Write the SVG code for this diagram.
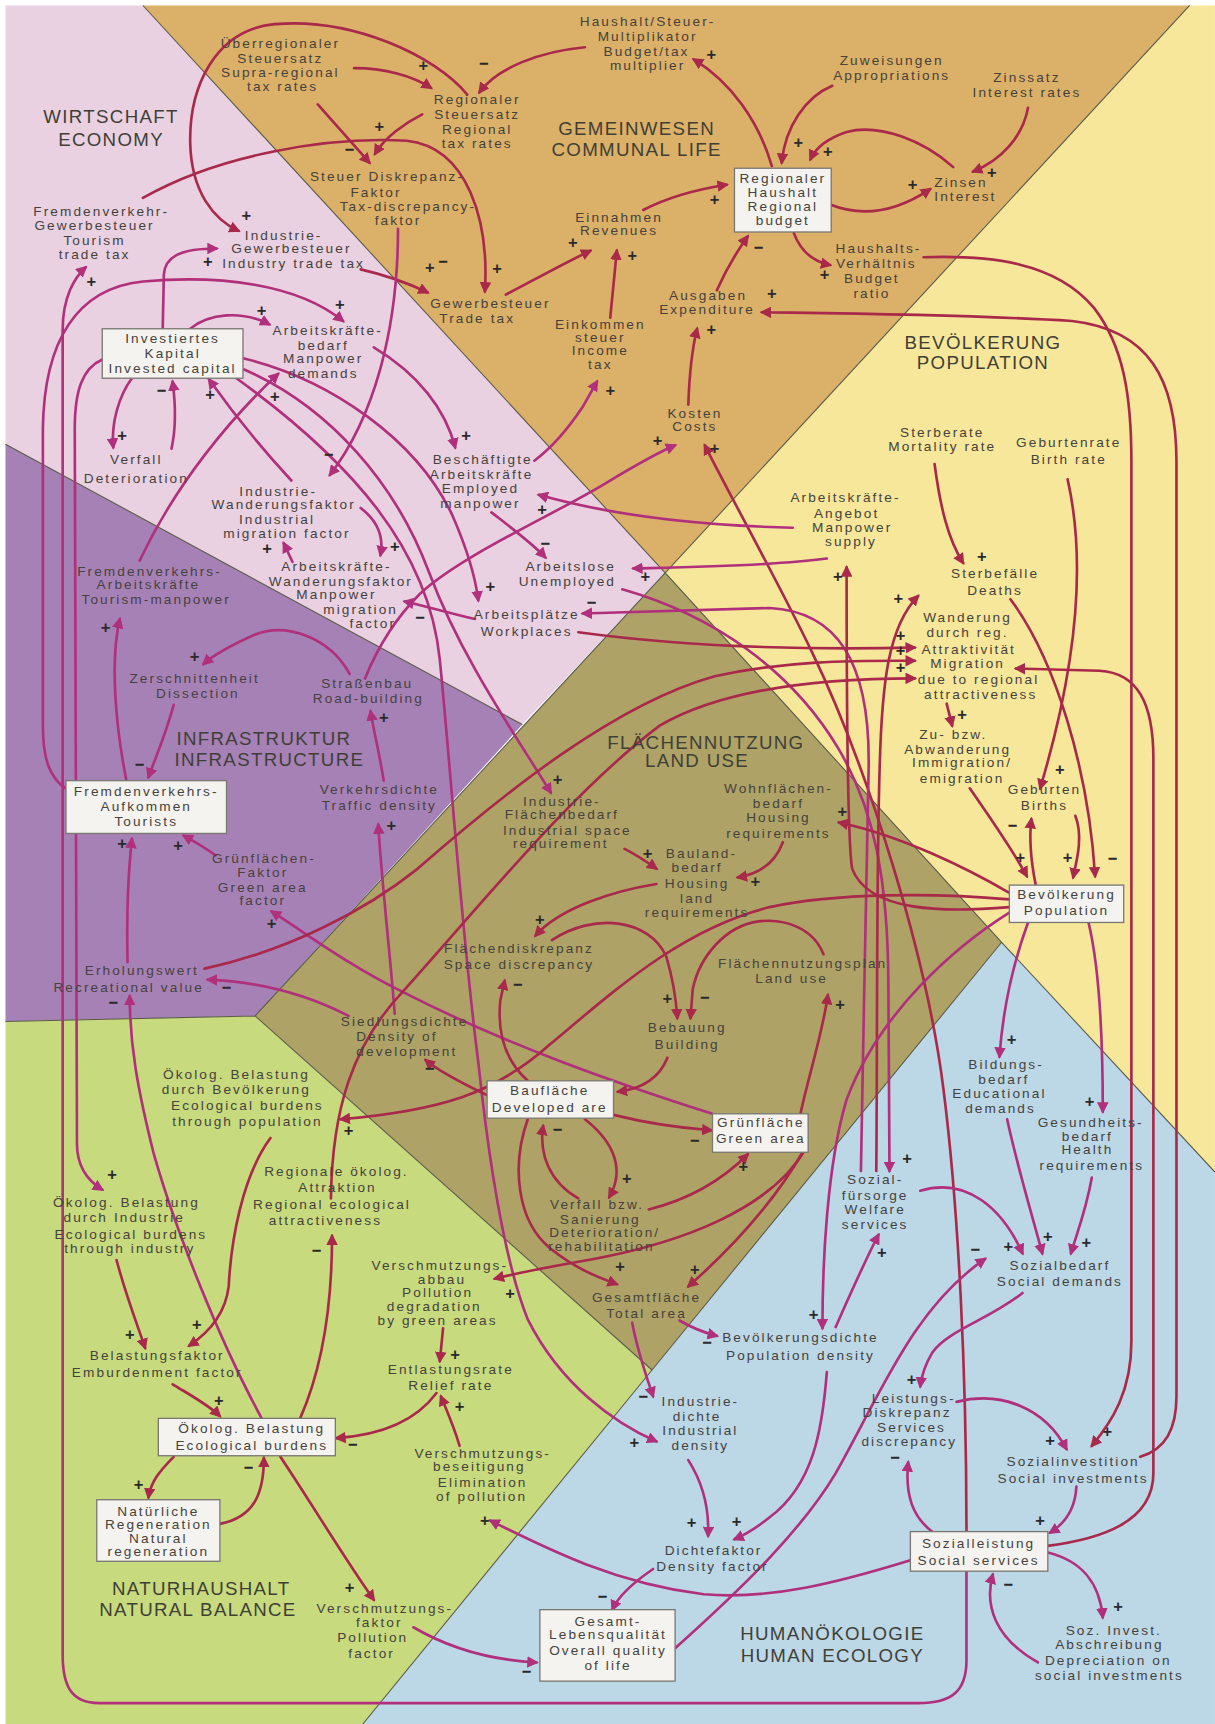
<svg xmlns="http://www.w3.org/2000/svg" width="1215" height="1724" viewBox="0 0 1215 1724">
<defs>
<style>
.c{fill:none;stroke-width:2.4;stroke-linecap:round}
.r{stroke:#a8294a;marker-end:url(#ar)}
.m{stroke:#b0307c;marker-end:url(#am)}
.t{font-family:"Liberation Sans",Arial,sans-serif;font-size:12.4px;letter-spacing:1.9px;fill:#46423c;text-anchor:middle}
.h{font-size:17px;letter-spacing:1.2px;fill:#403f36}
.s{font-family:"Liberation Sans",Arial,sans-serif;font-size:15px;fill:#2a2a2a;text-anchor:middle;font-weight:bold}
.bx{fill:#f5f3ef;stroke:#7a7872;stroke-width:1.2}
</style>
<marker id="ar" viewBox="0 0 10 10" refX="8" refY="5" markerWidth="4.4" markerHeight="4.4" orient="auto-start-reverse"><path d="M0,0 L10,5 L0,10 z" fill="#a8294a"/></marker>
<marker id="am" viewBox="0 0 10 10" refX="8" refY="5" markerWidth="4.4" markerHeight="4.4" orient="auto-start-reverse"><path d="M0,0 L10,5 L0,10 z" fill="#b0307c"/></marker>
</defs>
<rect width="1215" height="1724" fill="#ffffff"/>
<g transform="scale(1.0995)">
<g id="regions">
<polygon fill="#e9d1e1" points="5,5 130,5 605,521 475,659 5,404"/>
<polygon fill="#dbb068" points="130,5 1082,5 605,521"/>
<polygon fill="#f7e79a" points="1082,5 1105,5 1105,1066 911,857 605,521"/>
<polygon fill="#aea267" points="605,521 911,857 593,1246 232,924"/>
<polygon fill="#a681b6" points="5,404 475,659 232,924 5,929"/>
<polygon fill="#c8da7e" points="5,929 232,924 593,1246 330,1568 5,1568"/>
<polygon fill="#bcd7e6" points="911,857 1105,1066 1105,1568 330,1568 593,1246"/>
<path d="M130,5 L605,521 L911,857 L1105,1066 M1082,5 L605,521 L232,924 L5,929 M5,404 L475,659 M911,857 L593,1246 L330,1568 M232,924 L593,1246" fill="none" stroke="#5b5b48" stroke-width="1"/>
</g>

<g id="connectors">
<path class="c r" d="M532,43 C490,47 452,62 436,84"/>
<path class="c r" d="M322,62 C350,62 375,69 392,80"/>
<path class="c r" d="M425,86 C395,50 320,16 250,22 C195,27 172,80 173,130 C174,175 195,200 217,210"/>
<path class="c r" d="M384,104 C368,112 350,125 341,140"/>
<path class="c r" d="M289,95 L336,148"/>
<path class="c r" d="M130,180 C200,140 300,124 370,128 C425,134 445,200 441,265"/>
<path class="c r" d="M328,245 C350,250 370,257 389,266"/>
<path class="c r" d="M460,268 C485,255 512,240 537,228"/>
<path class="c r" d="M555,289 L561,228"/>
<path class="c r" d="M585,191 C610,178 635,172 661,168"/>
<path class="c r" d="M652,264 C660,246 670,229 680,215"/>
<path class="c r" d="M626,368 C627,340 630,315 634,299"/>
<path class="c r" d="M702,151 C690,110 665,75 631,54"/>
<path class="c r" d="M757,78 C733,88 714,115 711,148"/>
<path class="c r" d="M867,152 C840,128 800,112 770,120 C752,126 742,134 737,145"/>
<path class="c r" d="M755,186 C790,200 822,188 846,172"/>
<path class="c r" d="M935,98 C930,125 910,146 885,156"/>
<path class="c r" d="M722,212 C728,228 740,238 755,241"/>
<path class="c r" d="M840,234 C900,232 960,238 995,280 C1022,315 1029,360 1029,420 L1029,1220 C1029,1265 1012,1292 993,1315"/>
<path class="c r" d="M1037,1325 C1060,1318 1070,1300 1070,1270 L1070,420 C1070,345 1045,300 975,292 C880,286 760,285 693,284"/>
<path class="c r" d="M953,1406 C1000,1400 1049,1385 1049,1340 L1049,690 C1049,640 1035,612 1000,610 L924,608"/>
<path class="c r" d="M879,1393 C879,1250 872,1100 858,990 C843,870 790,700 738,592 C708,530 670,462 641,405"/>
<path class="c m" d="M879,1429 L879,1510 C879,1538 866,1549 835,1549 L90,1549 C66,1549 57,1535 57,1505 L57,300 C57,270 68,252 78,243"/>
<path class="c m" d="M93,327 C75,335 68,355 68,390 L70,1040 C70,1062 80,1074 93,1082"/>
<path class="c m" d="M61,718 C45,708 39,690 39,660 L39,390 C40,310 70,262 130,256 C200,250 270,258 312,292"/>
<path class="c m" d="M148,299 L149,250 C150,233 165,226 197,226"/>
<path class="c m" d="M173,299 C190,285 220,282 245,295"/>
<path class="c m" d="M222,326 C300,345 380,400 412,470 C425,500 432,522 435,546"/>
<path class="c m" d="M222,336 C300,370 360,440 390,520 C420,600 470,670 501,721"/>
<path class="c m" d="M215,344 C320,420 390,500 400,600 C410,700 420,850 435,966 C445,1060 460,1150 480,1200 C510,1260 560,1295 597,1311"/>
<path class="c m" d="M340,316 C380,340 405,372 414,407"/>
<path class="c m" d="M447,466 C465,480 485,495 496,507"/>
<path class="c m" d="M721,480 C640,478 560,470 490,450"/>
<path class="c m" d="M752,508 C700,515 620,516 576,517"/>
<path class="c m" d="M783,1065 C785,950 788,800 790,700 C792,600 760,556 700,553 L530,558"/>
<path class="c m" d="M566,536 C650,560 720,610 762,680 C795,735 808,800 808,900 L809,1065"/>
<path class="c m" d="M362,208 C362,300 340,380 300,432"/>
<path class="c m" d="M328,462 C345,475 349,490 346,505"/>
<path class="c m" d="M266,511 C263,505 261,500 258,494"/>
<path class="c m" d="M432,563 C410,558 390,552 368,547"/>
<path class="c m" d="M332,617 C345,585 362,560 382,540 C420,505 500,470 550,440 C575,425 595,413 614,405"/>
<path class="c m" d="M486,419 C505,405 520,385 530,370 C536,360 540,352 543,347"/>
<path class="c m" d="M156,408 C160,390 160,370 157,347"/>
<path class="c m" d="M120,344 C108,360 101,385 103,407"/>
<path class="c m" d="M265,437 C240,410 215,380 190,345"/>
<path class="c m" d="M127,510 C160,440 210,380 253,340"/>
<path class="c m" d="M115,710 C105,660 100,600 109,563"/>
<path class="c m" d="M158,641 C150,670 141,690 135,707"/>
<path class="c m" d="M318,613 C300,580 260,565 230,578 C210,587 195,595 185,604"/>
<path class="c m" d="M349,710 C345,685 340,665 337,647"/>
<path class="c m" d="M359,922 C355,870 347,800 344,750"/>
<path class="c m" d="M116,875 C115,830 117,790 120,763"/>
<path class="c m" d="M196,778 C188,772 178,766 167,760"/>
<path class="c m" d="M238,1290 C200,1220 160,1120 140,1050 C125,990 118,950 118,906"/>
<path class="c m" d="M317,924 C280,905 240,893 189,891"/>
<path class="c m" d="M648,1013 C560,985 460,950 368,903 C320,880 280,850 247,829"/>
<path class="c r" d="M186,881 C260,865 330,830 380,790 C460,720 560,640 650,615 C720,600 780,601 832,601"/>
<path class="c r" d="M301,1090 C302,1010 320,950 368,900 C440,820 520,720 600,660 C660,625 750,617 832,617"/>
<path class="c r" d="M526,575 C600,585 700,592 832,589"/>
<path class="c r" d="M273,1290 C295,1240 302,1180 302,1124"/>
<path class="c r" d="M255,1325 C285,1370 315,1420 340,1455"/>
<path class="c r" d="M157,1259 C175,1270 190,1278 200,1288"/>
<path class="c r" d="M106,1146 C115,1180 125,1205 132,1226"/>
<path class="c r" d="M246,1035 C220,1070 210,1130 208,1170 C205,1195 190,1212 172,1224"/>
<path class="c r" d="M158,1325 C145,1338 137,1348 135,1362"/>
<path class="c r" d="M200,1386 C230,1380 240,1360 240,1326"/>
<path class="c r" d="M397,1267 C380,1290 350,1305 306,1308"/>
<path class="c r" d="M403,1208 L400,1238"/>
<path class="c r" d="M418,1315 C412,1295 405,1280 401,1270"/>
<path class="c r" d="M732,1046 C700,1100 620,1130 540,1145 C500,1152 470,1158 450,1163"/>
<path class="c r" d="M918,818 C850,812 760,812 700,825 C620,845 560,900 500,950 C450,995 400,1010 310,1018"/>
<path class="c m" d="M376,1480 C410,1500 450,1510 488,1512"/>
<path class="c m" d="M828,1419 C760,1440 700,1455 640,1450 C560,1440 500,1410 446,1383"/>
<path class="c r" d="M749,868 C740,845 715,835 690,838 C660,842 636,870 630,900 L628,926"/>
<path class="c r" d="M502,855 C540,830 590,835 606,870 C612,890 615,910 616,926"/>
<path class="c r" d="M597,804 C560,810 510,825 487,851"/>
<path class="c r" d="M480,983 C460,965 452,940 455,910 L459,892"/>
<path class="c r" d="M607,962 C600,980 585,990 562,993"/>
<path class="c r" d="M558,1014 C590,1022 620,1026 647,1028"/>
<path class="c r" d="M443,996 C420,985 400,975 387,964"/>
<path class="c r" d="M532,1018 C560,1040 568,1065 554,1089"/>
<path class="c r" d="M526,1090 C500,1075 490,1050 494,1024"/>
<path class="c r" d="M590,1100 C630,1090 660,1070 680,1050"/>
<path class="c r" d="M480,1018 C465,1060 470,1110 500,1135 C525,1155 545,1162 561,1168"/>
<path class="c r" d="M730,1048 C700,1100 660,1140 626,1170"/>
<path class="c r" d="M728,1013 C735,980 748,940 753,905"/>
<path class="c r" d="M568,772 C580,778 590,785 597,790"/>
<path class="c r" d="M712,766 C705,785 690,795 671,798"/>
<path class="c r" d="M918,812 C880,790 820,760 763,748"/>
<path class="c r" d="M850,422 C855,460 862,490 876,512"/>
<path class="c r" d="M971,436 C990,520 975,620 946,717"/>
<path class="c r" d="M919,545 C960,600 990,700 996,797"/>
<path class="c r" d="M861,640 L866,660"/>
<path class="c r" d="M882,717 C905,750 922,775 934,797"/>
<path class="c r" d="M978,742 C985,760 980,780 976,798"/>
<path class="c r" d="M942,805 C937,780 936,762 938,745"/>
<path class="c r" d="M918,825 C860,830 790,830 775,790 C770,760 770,600 770,516"/>
<path class="c r" d="M797,1065 C798,950 797,800 800,700 C802,620 808,570 835,542"/>
<path class="c m" d="M935,839 C920,880 912,920 909,961"/>
<path class="c m" d="M990,839 C1000,880 1003,950 1003,1011"/>
<path class="c m" d="M918,830 C870,860 800,920 770,1000 C752,1060 748,1150 748,1208"/>
<path class="c m" d="M618,1201 C630,1208 640,1212 652,1215"/>
<path class="c m" d="M575,1203 C580,1230 588,1252 594,1270"/>
<path class="c m" d="M626,1328 C640,1350 645,1375 644,1397"/>
<path class="c m" d="M752,1248 C748,1300 740,1350 700,1380 C685,1392 675,1397 668,1400"/>
<path class="c m" d="M594,1427 C575,1440 562,1452 557,1464"/>
<path class="c m" d="M614,1499 C680,1440 730,1390 760,1340 C800,1270 830,1190 896,1145"/>
<path class="c m" d="M760,1207 C772,1180 785,1150 799,1123"/>
<path class="c m" d="M837,1083 C880,1070 912,1100 930,1140"/>
<path class="c m" d="M916,1018 C925,1060 940,1110 948,1140"/>
<path class="c m" d="M993,1071 C988,1100 980,1120 974,1140"/>
<path class="c m" d="M930,1176 C900,1200 862,1210 848,1230 C841,1242 838,1252 837,1261"/>
<path class="c m" d="M870,1275 C910,1265 950,1280 970,1318"/>
<path class="c m" d="M849,1394 C830,1380 823,1360 826,1330"/>
<path class="c m" d="M979,1352 C978,1372 968,1386 955,1394"/>
<path class="c m" d="M953,1412 C985,1420 1000,1440 1003,1471"/>
<path class="c m" d="M944,1512 C905,1490 895,1460 903,1432"/>
</g>

<g id="signs" class="s">
<text x="440" y="63">−</text><text x="385" y="65">+</text><text x="224" y="201">+</text><text x="345" y="120">+</text><text x="318" y="141">−</text>
<text x="452" y="249">+</text><text x="391" y="248">+</text><text x="403" y="243">−</text><text x="521" y="226">+</text><text x="575" y="237">+</text>
<text x="650" y="186">+</text><text x="690" y="230">−</text><text x="647" y="305">+</text><text x="647" y="55">+</text><text x="726" y="135">+</text>
<text x="753" y="143">+</text><text x="830" y="173">+</text><text x="902" y="162">+</text><text x="750" y="255">+</text><text x="1007" y="1307">+</text>
<text x="702" y="272">+</text><text x="650" y="413">+</text><text x="598" y="406">+</text><text x="83" y="261">+</text><text x="102" y="1073">+</text>
<text x="309" y="282">+</text><text x="189" y="243">+</text><text x="238" y="287">+</text><text x="446" y="538">+</text><text x="507" y="714">+</text>
<text x="577" y="1317">+</text><text x="424" y="401">+</text><text x="496" y="499">−</text><text x="493" y="468">+</text><text x="587" y="529">+</text>
<text x="538" y="553">−</text><text x="825" y="1059">+</text><text x="299" y="418">−</text><text x="359" y="502">+</text><text x="243" y="504">+</text>
<text x="382" y="567">−</text><text x="555" y="360">+</text><text x="147" y="360">−</text><text x="111" y="401">+</text><text x="191" y="364">+</text>
<text x="250" y="366">+</text><text x="96" y="576">+</text><text x="127" y="700">−</text><text x="177" y="602">+</text><text x="349" y="658">+</text>
<text x="356" y="756">+</text><text x="111" y="772">+</text><text x="162" y="774">+</text><text x="103" y="917">−</text><text x="206" y="903">−</text>
<text x="247" y="845">+</text><text x="819" y="583">+</text><text x="819" y="597">+</text><text x="819" y="612">+</text><text x="288" y="1142">−</text>
<text x="318" y="1449">+</text><text x="199" y="1279">+</text><text x="118" y="1219">+</text><text x="179" y="1210">+</text><text x="126" y="1355">+</text>
<text x="226" y="1340">−</text><text x="321" y="1319">−</text><text x="414" y="1237">+</text><text x="418" y="1284">+</text><text x="464" y="1181">+</text>
<text x="317" y="1033">+</text><text x="479" y="1525">−</text><text x="441" y="1388">+</text><text x="641" y="912">−</text><text x="607" y="913">+</text>
<text x="491" y="841">+</text><text x="471" y="900">−</text><text x="632" y="1042">−</text><text x="391" y="977">−</text><text x="570" y="1077">+</text>
<text x="507" y="1032">−</text><text x="676" y="1066">+</text><text x="564" y="1157">+</text><text x="632" y="1160">+</text><text x="764" y="919">+</text>
<text x="589" y="781">+</text><text x="687" y="807">+</text><text x="766" y="743">+</text><text x="893" y="511">+</text><text x="964" y="705">+</text>
<text x="1012" y="786">−</text><text x="875" y="655">+</text><text x="928" y="785">+</text><text x="971" y="785">+</text><text x="921" y="756">−</text>
<text x="762" y="529">+</text><text x="817" y="549">+</text><text x="920" y="950">+</text><text x="991" y="1007">+</text><text x="740" y="1201">+</text>
<text x="643" y="1226">−</text><text x="585" y="1275">−</text><text x="629" y="1390">+</text><text x="670" y="1389">+</text><text x="548" y="1457">−</text>
<text x="887" y="1141">−</text><text x="802" y="1144">+</text><text x="917" y="1139">+</text><text x="953" y="1130">+</text><text x="988" y="1135">+</text>
<text x="829" y="1260">+</text><text x="955" y="1315">+</text><text x="814" y="1331">−</text><text x="946" y="1388">+</text><text x="1017" y="1466">+</text>
<text x="917" y="1446">−</text>
</g>

<g id="titles" class="t h">
<text><tspan x="101" y="112">WIRTSCHAFT</tspan><tspan x="101" y="133">ECONOMY</tspan></text>
<text><tspan x="579" y="123">GEMEINWESEN</tspan><tspan x="579" y="142">COMMUNAL LIFE</tspan></text>
<text><tspan x="894" y="317">BEVÖLKERUNG</tspan><tspan x="894" y="336">POPULATION</tspan></text>
<text><tspan x="240" y="678">INFRASTRUKTUR</tspan><tspan x="245" y="697">INFRASTRUCTURE</tspan></text>
<text><tspan x="642" y="681">FLÄCHENNUTZUNG</tspan><tspan x="634" y="698">LAND USE</tspan></text>
<text><tspan x="183" y="1451">NATURHAUSHALT</tspan><tspan x="180" y="1470">NATURAL BALANCE</tspan></text>
<text><tspan x="757" y="1492">HUMANÖKOLOGIE</tspan><tspan x="757" y="1512">HUMAN ECOLOGY</tspan></text>
</g>

<g id="nodes" class="t">
<g id="n-ueberregional"><text><tspan x="255" y="44">Überregionaler</tspan><tspan x="255" y="57">Steuersatz</tspan><tspan x="255" y="70">Supra-regional</tspan><tspan x="257" y="83">tax rates</tspan></text></g>
<g id="n-regsteuer"><text><tspan x="434" y="95">Regionaler</tspan><tspan x="434" y="108">Steuersatz</tspan><tspan x="434" y="122">Regional</tspan><tspan x="434" y="135">tax rates</tspan></text></g>
<g id="n-multiplikator"><text><tspan x="589" y="24">Haushalt/Steuer-</tspan><tspan x="589" y="37">Multiplikator</tspan><tspan x="588" y="51">Budget/tax</tspan><tspan x="589" y="64">multiplier</tspan></text></g>
<g id="n-zuweisungen"><text><tspan x="811" y="59">Zuweisungen</tspan><tspan x="811" y="73">Appropriations</tspan></text></g>
<g id="n-zinssatz"><text><tspan x="934" y="75">Zinssatz</tspan><tspan x="934" y="88">Interest rates</tspan></text></g>
<g id="n-haushalt"><rect class="bx" x="668" y="153" width="88" height="58"/><text><tspan x="712" y="166">Regionaler</tspan><tspan x="712" y="179">Haushalt</tspan><tspan x="712" y="192">Regional</tspan><tspan x="712" y="205">budget</tspan></text></g>
<g id="n-zinsen"><text><tspan x="874" y="170">Zinsen</tspan><tspan x="878" y="183">Interest</tspan></text></g>
<g id="n-hhverh"><text><tspan x="799" y="230">Haushalts-</tspan><tspan x="797" y="244">Verhältnis</tspan><tspan x="793" y="257">Budget</tspan><tspan x="793" y="271">ratio</tspan></text></g>
<g id="n-diskrepanz"><text><tspan x="352" y="165">Steuer Diskrepanz-</tspan><tspan x="342" y="179">Faktor</tspan><tspan x="371" y="192">Tax-discrepancy-</tspan><tspan x="362" y="205">faktor</tspan></text></g>
<g id="n-einnahmen"><text><tspan x="563" y="202">Einnahmen</tspan><tspan x="563" y="214">Revenues</tspan></text></g>
<g id="n-gewerbe"><text><tspan x="446" y="280">Gewerbesteuer</tspan><tspan x="434" y="294">Trade tax</tspan></text></g>
<g id="n-einkommen"><text><tspan x="546" y="299">Einkommen</tspan><tspan x="546" y="311">steuer</tspan><tspan x="546" y="323">Income</tspan><tspan x="546" y="336">tax</tspan></text></g>
<g id="n-ausgaben"><text><tspan x="644" y="273">Ausgaben</tspan><tspan x="643" y="286">Expenditure</tspan></text></g>
<g id="n-kosten"><text><tspan x="632" y="380">Kosten</tspan><tspan x="632" y="392">Costs</tspan></text></g>
<g id="n-fvgewerbe"><text><tspan x="92" y="196">Fremdenverkehr-</tspan><tspan x="86" y="209">Gewerbesteuer</tspan><tspan x="86" y="223">Tourism</tspan><tspan x="86" y="236">trade tax</tspan></text></g>
<g id="n-indgewerbe"><text><tspan x="258" y="218">Industrie-</tspan><tspan x="265" y="230">Gewerbesteuer</tspan><tspan x="267" y="244">Industry trade tax</tspan></text></g>
<g id="n-kapital"><rect class="bx" x="93" y="299" width="128" height="45"/><text><tspan x="157" y="312">Investiertes</tspan><tspan x="157" y="326">Kapital</tspan><tspan x="157" y="339">Invested capital</tspan></text></g>
<g id="n-akbedarf"><text><tspan x="298" y="305">Arbeitskräfte-</tspan><tspan x="294" y="318">bedarf</tspan><tspan x="294" y="330">Manpower</tspan><tspan x="294" y="344">demands</tspan></text></g>
<g id="n-verfall"><text><tspan x="124" y="422">Verfall</tspan><tspan x="124" y="439">Deterioration</tspan></text></g>
<g id="n-indwand"><text><tspan x="253" y="451">Industrie-</tspan><tspan x="258" y="463">Wanderungsfaktor</tspan><tspan x="252" y="477">Industrial</tspan><tspan x="261" y="489">migration factor</tspan></text></g>
<g id="n-akwand"><text><tspan x="306" y="519">Arbeitskräfte-</tspan><tspan x="310" y="533">Wanderungsfaktor</tspan><tspan x="306" y="545">Manpower</tspan><tspan x="328" y="558">migration</tspan><tspan x="339" y="571">factor</tspan></text></g>
<g id="n-beschaeftigte"><text><tspan x="439" y="422">Beschäftigte</tspan><tspan x="438" y="436">Arbeitskräfte</tspan><tspan x="437" y="448">Employed</tspan><tspan x="437" y="462">manpower</tspan></text></g>
<g id="n-arbeitslose"><text><tspan x="519" y="519">Arbeitslose</tspan><tspan x="516" y="533">Unemployed</tspan></text></g>
<g id="n-arbeitsplaetze"><text><tspan x="479" y="563">Arbeitsplätze</tspan><tspan x="479" y="578">Workplaces</tspan></text></g>
<g id="n-fvak"><text><tspan x="136" y="524">Fremdenverkehrs-</tspan><tspan x="135" y="536">Arbeitskräfte</tspan><tspan x="142" y="549">Tourism-manpower</tspan></text></g>
<g id="n-zerschnitten"><text><tspan x="177" y="621">Zerschnittenheit</tspan><tspan x="180" y="635">Dissection</tspan></text></g>
<g id="n-strassenbau"><text><tspan x="334" y="626">Straßenbau</tspan><tspan x="335" y="639">Road-building</tspan></text></g>
<g id="n-tourists"><rect class="bx" x="60" y="710" width="146" height="48"/><text><tspan x="133" y="724">Fremdenverkehrs-</tspan><tspan x="133" y="738">Aufkommen</tspan><tspan x="133" y="751">Tourists</tspan></text></g>
<g id="n-verkehrsdichte"><text><tspan x="345" y="722">Verkehrsdichte</tspan><tspan x="345" y="737">Traffic density</tspan></text></g>
<g id="n-gruenfaktor"><text><tspan x="240" y="785">Grünflächen-</tspan><tspan x="239" y="798">Faktor</tspan><tspan x="239" y="811">Green area</tspan><tspan x="239" y="823">factor</tspan></text></g>
<g id="n-erholung"><text><tspan x="129" y="887">Erholungswert</tspan><tspan x="117" y="902">Recreational value</tspan></text></g>
<g id="n-indflaeche"><text><tspan x="511" y="733">Industrie-</tspan><tspan x="511" y="745">Flächenbedarf</tspan><tspan x="516" y="759">Industrial space</tspan><tspan x="510" y="771">requirement</tspan></text></g>
<g id="n-wohnflaeche"><text><tspan x="708" y="721">Wohnflächen-</tspan><tspan x="708" y="735">bedarf</tspan><tspan x="708" y="748">Housing</tspan><tspan x="708" y="762">requirements</tspan></text></g>
<g id="n-bauland"><text><tspan x="638" y="780">Bauland-</tspan><tspan x="634" y="793">bedarf</tspan><tspan x="634" y="808">Housing</tspan><tspan x="634" y="821">land</tspan><tspan x="634" y="834">requirements</tspan></text></g>
<g id="n-flaechendisk"><text><tspan x="472" y="867">Flächendiskrepanz</tspan><tspan x="472" y="881">Space discrepancy</tspan></text></g>
<g id="n-fnp"><text><tspan x="730" y="880">Flächennutzungsplan</tspan><tspan x="720" y="894">Land use</tspan></text></g>
<g id="n-bebauung"><text><tspan x="625" y="939">Bebauung</tspan><tspan x="625" y="954">Building</tspan></text></g>
<g id="n-siedlung"><text><tspan x="368" y="933">Siedlungsdichte</tspan><tspan x="361" y="947">Density of</tspan><tspan x="370" y="960">development</tspan></text></g>
<g id="n-bauflaeche"><rect class="bx" x="443" y="983" width="115" height="34"/><text><tspan x="500" y="996">Baufläche</tspan><tspan x="500" y="1011">Developed are</tspan></text></g>
<g id="n-gruenflaeche"><rect class="bx" x="648" y="1013" width="87" height="35"/><text><tspan x="692" y="1025">Grünfläche</tspan><tspan x="692" y="1040">Green area</tspan></text></g>
<g id="n-sanierung"><text><tspan x="543" y="1100">Verfall bzw.</tspan><tspan x="546" y="1113">Sanierung</tspan><tspan x="550" y="1125">Deterioration/</tspan><tspan x="547" y="1138">rehabilitation</tspan></text></g>
<g id="n-gesamtflaeche"><text><tspan x="588" y="1184">Gesamtfläche</tspan><tspan x="588" y="1199">Total area</tspan></text></g>
<g id="n-sterberate"><text><tspan x="857" y="397">Sterberate</tspan><tspan x="857" y="410">Mortality rate</tspan></text></g>
<g id="n-geburtenrate"><text><tspan x="972" y="407">Geburtenrate</tspan><tspan x="972" y="422">Birth rate</tspan></text></g>
<g id="n-akangebot"><text><tspan x="769" y="457">Arbeitskräfte-</tspan><tspan x="770" y="471">Angebot</tspan><tspan x="775" y="484">Manpower</tspan><tspan x="774" y="497">supply</tspan></text></g>
<g id="n-sterbefaelle"><text><tspan x="905" y="526">Sterbefälle</tspan><tspan x="905" y="541">Deaths</tspan></text></g>
<g id="n-wanderung"><text><tspan x="880" y="566">Wanderung</tspan><tspan x="880" y="579">durch reg.</tspan><tspan x="881" y="595">Attraktivität</tspan><tspan x="880" y="608">Migration</tspan><tspan x="890" y="622">due to regional</tspan><tspan x="892" y="636">attractiveness</tspan></text></g>
<g id="n-zuab"><text><tspan x="867" y="672">Zu- bzw.</tspan><tspan x="871" y="686">Abwanderung</tspan><tspan x="875" y="698">Immigration/</tspan><tspan x="875" y="712">emigration</tspan></text></g>
<g id="n-geburten"><text><tspan x="950" y="722">Geburten</tspan><tspan x="950" y="737">Births</tspan></text></g>
<g id="n-bevoelkerung"><rect class="bx" x="918" y="805" width="104" height="34"/><text><tspan x="970" y="818">Bevölkerung</tspan><tspan x="970" y="832">Population</tspan></text></g>
<g id="n-bildung"><text><tspan x="915" y="972">Bildungs-</tspan><tspan x="913" y="986">bedarf</tspan><tspan x="909" y="999">Educational</tspan><tspan x="910" y="1012">demands</tspan></text></g>
<g id="n-gesundheit"><text><tspan x="992" y="1025">Gesundheits-</tspan><tspan x="989" y="1038">bedarf</tspan><tspan x="989" y="1050">Health</tspan><tspan x="993" y="1064">requirements</tspan></text></g>
<g id="n-fuersorge"><text><tspan x="796" y="1077">Sozial-</tspan><tspan x="796" y="1091">fürsorge</tspan><tspan x="796" y="1104">Welfare</tspan><tspan x="796" y="1118">services</tspan></text></g>
<g id="n-sozialbedarf"><text><tspan x="964" y="1155">Sozialbedarf</tspan><tspan x="964" y="1170">Social demands</tspan></text></g>
<g id="n-bevdichte"><text><tspan x="728" y="1221">Bevölkerungsdichte</tspan><tspan x="728" y="1237">Population density</tspan></text></g>
<g id="n-inddichte"><text><tspan x="637" y="1279">Industrie-</tspan><tspan x="634" y="1292">dichte</tspan><tspan x="637" y="1305">Industrial</tspan><tspan x="637" y="1319">density</tspan></text></g>
<g id="n-dichtefaktor"><text><tspan x="649" y="1414">Dichtefaktor</tspan><tspan x="648" y="1429">Density factor</tspan></text></g>
<g id="n-lebensqual"><rect class="bx" x="491" y="1464" width="123" height="65"/><text><tspan x="553" y="1479">Gesamt-</tspan><tspan x="553" y="1491">Lebensqualität</tspan><tspan x="553" y="1505">Overall quality</tspan><tspan x="553" y="1519">of life</tspan></text></g>
<g id="n-leistdisk"><text><tspan x="831" y="1276">Leistungs-</tspan><tspan x="825" y="1289">Diskrepanz</tspan><tspan x="829" y="1302">Services</tspan><tspan x="827" y="1315">discrepancy</tspan></text></g>
<g id="n-sozinvest"><text><tspan x="976" y="1333">Sozialinvestition</tspan><tspan x="976" y="1349">Social investments</tspan></text></g>
<g id="n-sozleistung"><rect class="bx" x="828" y="1393" width="125" height="36"/><text><tspan x="890" y="1408">Sozialleistung</tspan><tspan x="890" y="1423">Social services</tspan></text></g>
<g id="n-abschreibung"><text><tspan x="1013" y="1487">Soz. Invest.</tspan><tspan x="1009" y="1500">Abschreibung</tspan><tspan x="1008" y="1514">Depreciation on</tspan><tspan x="1009" y="1528">social investments</tspan></text></g>
<g id="n-oekbev"><text><tspan x="215" y="981">Ökolog. Belastung</tspan><tspan x="215" y="995">durch Bevölkerung</tspan><tspan x="225" y="1010">Ecological burdens</tspan><tspan x="225" y="1024">through population</tspan></text></g>
<g id="n-regoek"><text><tspan x="306" y="1070">Regionale ökolog.</tspan><tspan x="307" y="1084">Attraktion</tspan><tspan x="302" y="1100">Regional ecological</tspan><tspan x="296" y="1114">attractiveness</tspan></text></g>
<g id="n-oekind"><text><tspan x="115" y="1098">Ökolog. Belastung</tspan><tspan x="113" y="1111">durch Industrie</tspan><tspan x="119" y="1127">Ecological burdens</tspan><tspan x="118" y="1140">through industry</tspan></text></g>
<g id="n-vabbau"><text><tspan x="400" y="1155">Verschmutzungs-</tspan><tspan x="402" y="1168">abbau</tspan><tspan x="398" y="1180">Pollution</tspan><tspan x="395" y="1192">degradation</tspan><tspan x="398" y="1205">by green areas</tspan></text></g>
<g id="n-entlastung"><text><tspan x="410" y="1250">Entlastungsrate</tspan><tspan x="410" y="1264">Relief rate</tspan></text></g>
<g id="n-vbeseitigung"><text><tspan x="439" y="1326">Verschmutzungs-</tspan><tspan x="436" y="1338">beseitigung</tspan><tspan x="439" y="1352">Elimination</tspan><tspan x="438" y="1365">of pollution</tspan></text></g>
<g id="n-belastungsfaktor"><text><tspan x="143" y="1237">Belastungsfaktor</tspan><tspan x="143" y="1252">Emburdenment factor</tspan></text></g>
<g id="n-oekbelastung"><rect class="bx" x="144" y="1290" width="161" height="34"/><text><tspan x="229" y="1303">Ökolog. Belastung</tspan><tspan x="229" y="1319">Ecological burdens</tspan></text></g>
<g id="n-regeneration"><rect class="bx" x="88" y="1364" width="112" height="56"/><text><tspan x="144" y="1379">Natürliche</tspan><tspan x="144" y="1391">Regeneration</tspan><tspan x="144" y="1403">Natural</tspan><tspan x="144" y="1415">regeneration</tspan></text></g>
<g id="n-vfaktor"><text><tspan x="350" y="1467">Verschmutzungs-</tspan><tspan x="345" y="1480">faktor</tspan><tspan x="339" y="1493">Pollution</tspan><tspan x="338" y="1508">factor</tspan></text></g>
</g>
</g>
</svg>
